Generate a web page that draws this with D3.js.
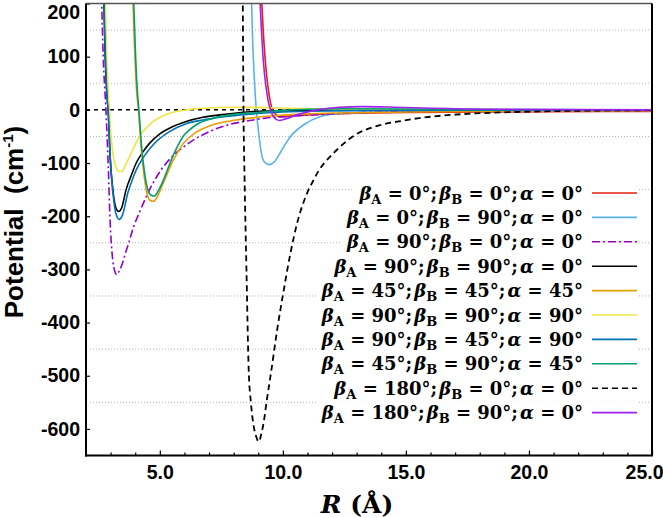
<!DOCTYPE html>
<html>
<head>
<meta charset="utf-8">
<script src="https://cdn.jsdelivr.net/npm/d3@7"></script>
<style>
  body { margin: 0; background: #fff; }
  .axis text { font-family: "Liberation Sans", Arial, sans-serif; font-weight: bold; font-size: 19.5px; fill: #000; }
  .axis line { stroke: #000; stroke-width: 1.2; }
</style>
</head>
<body>
<svg id="chart" width="663" height="518"></svg>
<script>
// angles for each curve (legend)
const betaA = [0, 0, 90, 90, 45, 90, 90, 45, 180, 180];
const betaB = [0, 90, 0, 90, 45, 90, 45, 90, 0, 90];
const alpha = [0, 0, 0, 0, 45, 90, 90, 45, 0, 0];

// [R (Å), potential (cm-1)]
const s000 = [[9.13, 215], [9.2, 150], [9.29, 90], [9.39, 45], [9.49, 15], [9.58, 0], [9.72, -9], [9.88, -13], [10.2, -12], [10.8, -10], [11.8, -8], [13, -6.5], [15, -5], [18, -4], [21, -3.5], [25, -3]];
const s0900 = [[8.72, 215], [8.78, 120], [8.85, 50], [8.92, 0], [9.02, -44], [9.12, -80], [9.25, -98], [9.45, -103], [9.65, -98], [9.8, -88], [10.04, -69], [10.31, -50], [10.85, -28], [11.5, -13], [12.3, -7], [13.2, -5], [15, -3], [18, -2], [25, -1]];
const s9000 = [[2.63, 215], [2.7, 100], [2.81, 0], [2.9, -100], [2.98, -210], [3.06, -270], [3.15, -300], [3.25, -310], [3.35, -303], [3.47, -290], [3.6, -270], [3.75, -248], [3.95, -218], [4.2, -190], [4.45, -163], [4.72, -138], [5.05, -113], [5.5, -88], [6.07, -66], [6.5, -53], [7.0, -41], [7.8, -28], [8.8, -19], [9.2, -16], [10.3, -12], [11.26, -9.4], [13.2, -5], [16, -3], [20, -1.5], [25, -0.5]];
const s90900 = [[2.72, 215], [2.78, 100], [2.85, 30], [2.9, 0], [2.98, -88], [3.09, -150], [3.2, -182], [3.33, -191], [3.45, -184], [3.63, -150], [3.85, -122], [4.04, -100], [4.3, -80], [4.58, -63], [5.0, -45], [5.39, -34.5], [6.07, -22], [6.75, -14], [7.43, -9.5], [8.79, -3], [10, -1.5], [12, -0.5], [25, 0]];
const s454545 = [[3.9, 215], [3.97, 120], [4.05, 40], [4.13, 0], [4.24, -70], [4.35, -120], [4.47, -155], [4.6, -170], [4.74, -172], [4.9, -163], [5.12, -140], [5.35, -115], [5.53, -96], [5.75, -78], [5.94, -64], [6.2, -52], [6.48, -42], [7.16, -28], [8.1, -19], [8.92, -14], [10, -10], [12, -6], [15, -4], [20, -2], [25, -1]];
const s909090 = [[2.78, 215], [2.84, 100], [2.9, 37], [2.95, 0], [3.02, -50], [3.12, -90], [3.22, -108], [3.35, -116], [3.45, -116], [3.6, -104], [3.77, -88], [3.97, -68], [4.17, -50], [4.45, -34], [4.72, -22], [5.05, -13], [5.39, -6.4], [6.07, 0], [6.75, 3], [8.1, 5], [9.5, 4], [11, 2], [14, 0.5], [25, 0]];
const s904590 = [[2.72, 215], [2.79, 100], [2.86, 20], [2.9, 0], [2.99, -95], [3.1, -158], [3.2, -192], [3.35, -206], [3.48, -198], [3.7, -156], [3.87, -133], [4.04, -113], [4.35, -88], [4.72, -66], [5.39, -41], [6.07, -26], [6.75, -19], [7.43, -14], [8.79, -7.5], [10, -4], [12, -2], [15, -1], [25, 0]];
const s459045 = [[3.93, 215], [4.0, 120], [4.08, 40], [4.15, 0], [4.26, -70], [4.37, -115], [4.5, -148], [4.63, -160], [4.78, -162], [4.93, -153], [5.12, -135], [5.35, -108], [5.53, -87], [5.75, -66], [5.94, -50], [6.2, -38], [6.48, -28], [7.16, -16], [8.1, -8], [8.92, -5], [10, -1], [11, 1], [12.5, 2], [15, 1.5], [20, 0.5], [25, 0]];
const s18000 = [[8.37, 215], [8.4, 0], [8.44, -120], [8.52, -300], [8.61, -487], [8.7, -550], [8.79, -588], [8.9, -612], [9.02, -624], [9.12, -610], [9.22, -588], [9.35, -545], [9.5, -500], [9.77, -413], [10.04, -338], [10.31, -269], [10.58, -213], [10.99, -156], [11.26, -131], [11.46, -114], [11.7, -99], [11.94, -87], [12.2, -75], [12.48, -63], [12.75, -53], [13.09, -43], [13.5, -35], [14.1, -27], [14.8, -21], [15.47, -16], [16.1, -12.5], [16.82, -9.5], [17.8, -6.8], [18.86, -4.8], [20.9, -2.5], [23, -1.2], [25, -0.6]];
const s180900 = [[9.06, 215], [9.13, 150], [9.21, 90], [9.31, 45], [9.41, 15], [9.5, 0], [9.63, -14], [9.85, -20], [10.1, -17], [10.6, -9], [11.4, 0], [12.3, 5], [13.2, 6], [14.5, 5], [16, 3], [19, 1], [25, 0]];

const xMajorTicks = [5, 10, 15, 20, 25];
const xMinorTicks = d3.range(3, 25);
const yTicks = [200, 100, 0, -100, -200, -300, -400, -500, -600];
const yGrid = [150, 50, -50, -150, -250, -350, -450, -550];

const allSeries = [s000, s0900, s9000, s90900, s454545, s909090, s904590, s459045, s18000, s180900];
const colors = ["#e51e10", "#56b4e9", "#9400d3", "#000000", "#e69f00", "#f0e442", "#0072b2", "#009e73", "#000000", "#a020f0"];
const dashes = [null, null, "8,3,2,3", null, null, null, null, null, "6,4", null];

const plotLeft = 86, plotRight = 652, plotTop = 3.5, plotBottom = 455.5;
const svg = d3.select("#chart");

const x = d3.scaleLinear().domain([2, 25]).range([plotLeft, plotRight]);
const y = d3.scaleLinear().domain([-650, 200]).range([plotBottom, plotTop]);

svg.append("defs").append("clipPath").attr("id", "plotclip")
  .append("rect").attr("x", plotLeft).attr("y", plotTop).attr("width", plotRight - plotLeft).attr("height", plotBottom - plotTop);

// dotted grid at the half hundreds
svg.append("g").selectAll("line").data(yGrid).join("line")
  .attr("x1", plotLeft + 4).attr("x2", plotRight - 2)
  .attr("y1", d => y(d)).attr("y2", d => y(d))
  .attr("stroke", "#b0b0b0").attr("stroke-width", 1).attr("stroke-dasharray", "1,2");

// zero reference
svg.append("line")
  .attr("x1", plotLeft).attr("x2", plotRight).attr("y1", y(0)).attr("y2", y(0))
  .attr("stroke", "#000").attr("stroke-width", 1.5).attr("stroke-dasharray", "4,4");

const line = d3.line().x(d => x(d[0])).y(d => y(d[1])).curve(d3.curveMonotoneX);

const curves = svg.append("g").attr("clip-path", "url(#plotclip)");
allSeries.forEach((s, i) => {
  curves.append("path")
    .datum(s)
    .attr("d", line)
    .attr("fill", "none")
    .attr("stroke", colors[i])
    .attr("stroke-width", i === 8 ? 1.8 : 1.6)
    .attr("stroke-dasharray", dashes[i]);
});

// axes
const xAxis = svg.append("g").attr("class", "axis").attr("transform", `translate(0,${plotBottom})`)
  .call(d3.axisBottom(x).tickValues(xMajorTicks).tickFormat(d3.format(".1f")).tickSizeInner(-5).tickSizeOuter(0).tickPadding(10));
xAxis.select(".domain").remove();
// last label sits against the right edge of the picture
xAxis.selectAll(".tick text").filter(d => d === 25).attr("text-anchor", "end").attr("x", 11);
svg.append("g").attr("class", "axis").attr("transform", `translate(0,${plotBottom})`)
  .call(d3.axisBottom(x).tickValues(xMinorTicks.filter(v => v % 5 !== 0)).tickFormat("").tickSizeInner(-3).tickSizeOuter(0))
  .select(".domain").remove();

const yAxis = svg.append("g").attr("class", "axis").attr("transform", `translate(${plotLeft},0)`)
  .call(d3.axisLeft(y).tickValues(yTicks).tickFormat(d => String(d)).tickSizeInner(-4).tickSizeOuter(0).tickPadding(6));
yAxis.select(".domain").remove();
yAxis.selectAll(".tick text").filter(d => d === 200).attr("dy", "0.75em").attr("y", 0);

// frame
svg.append("line").attr("x1", plotLeft).attr("x2", plotRight).attr("y1", plotTop).attr("y2", plotTop).attr("stroke", "#555").attr("stroke-width", 1.5);
svg.append("line").attr("x1", plotRight).attr("x2", plotRight).attr("y1", plotTop).attr("y2", plotBottom).attr("stroke", "#000").attr("stroke-width", 2);
svg.append("line").attr("x1", plotLeft).attr("x2", plotLeft).attr("y1", plotTop).attr("y2", plotBottom + 1).attr("stroke", "#000").attr("stroke-width", 2);
svg.append("line").attr("x1", plotLeft - 1).attr("x2", plotRight + 1).attr("y1", plotBottom).attr("y2", plotBottom).attr("stroke", "#000").attr("stroke-width", 2);

// axis titles
const yTitle = svg.append("text")
  .attr("transform", "translate(23,222) rotate(-90)")
  .attr("text-anchor", "middle")
  .style("font-family", "'Liberation Sans', Arial, sans-serif")
  .style("font-weight", "bold").style("font-size", "26px")
  .style("white-space", "pre");
yTitle.append("tspan").text("Potential  (cm");
yTitle.append("tspan").attr("dy", -10).style("font-size", "15px").text("-1");
yTitle.append("tspan").attr("dy", 10).text(")");

const xTitle = svg.append("text")
  .attr("x", 357).attr("y", 513)
  .attr("text-anchor", "middle")
  .style("font-family", "'DejaVu Serif', serif")
  .style("font-weight", "bold").style("font-size", "25px")
  .style("white-space", "pre");
xTitle.append("tspan").style("font-style", "italic").text("R");
xTitle.append("tspan").text(" (Å)");

// legend
const legend = svg.append("g");
const rowY0 = 193, rowStep = 24.4, textRight = 583, sampleX1 = 592, sampleX2 = 637;
allSeries.forEach((s, i) => {
  const ry = rowY0 + i * rowStep;
  const g = legend.append("g");
  const bg = g.append("rect").attr("fill", "#fff");
  const t = g.append("text")
    .attr("x", textRight).attr("y", ry + 6.5)
    .attr("text-anchor", "end")
    .style("font-family", "'DejaVu Serif', serif")
    .style("font-weight", "bold").style("font-size", "18px")
    .style("white-space", "pre");
  t.append("tspan").style("font-style", "italic").text("β");
  t.append("tspan").attr("dy", 4).style("font-size", "13px").text("A");
  t.append("tspan").attr("dy", -4).text(` = ${betaA[i]}°;`);
  t.append("tspan").attr("dx", 2).style("font-style", "italic").text("β");
  t.append("tspan").attr("dy", 4).style("font-size", "13px").text("B");
  t.append("tspan").attr("dy", -4).text(` = ${betaB[i]}°;`);
  t.append("tspan").attr("dx", 2).style("font-style", "italic").text("α");
  t.append("tspan").text(` = ${alpha[i]}°`);
  const bb = t.node().getBBox();
  bg.attr("x", bb.x - 5).attr("y", ry - 11).attr("width", sampleX2 + 1 - bb.x + 5).attr("height", 22);
  g.append("line")
    .attr("x1", sampleX1).attr("x2", sampleX2).attr("y1", ry).attr("y2", ry)
    .attr("stroke", colors[i]).attr("stroke-width", 1.6)
    .attr("stroke-dasharray", dashes[i]);
});
</script>
</body>
</html>
